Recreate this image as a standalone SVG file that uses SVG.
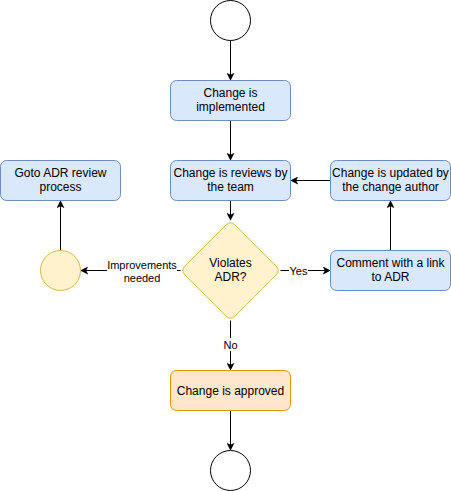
<svg xmlns="http://www.w3.org/2000/svg" width="451" height="491" viewBox="0 0 451 491">
<style>
.blue{fill:#dae8fc;stroke:#6c8ebf;stroke-width:1}
.yel{fill:#fff2cc;stroke:#d6b656;stroke-width:1}
.org{fill:#ffe6cc;stroke:#d79b00;stroke-width:1}
.term{fill:#ffffff;stroke:#000000;stroke-width:1}
.t{font-family:"Liberation Sans",Arial,sans-serif;font-size:12px;fill:#000;text-anchor:middle}
.lt{font-family:"Liberation Sans",Arial,sans-serif;font-size:11px;fill:#000;text-anchor:middle}
.e{stroke:#000;stroke-width:1;fill:none;marker-end:url(#arr)}
.lbg{fill:#ffffff}
</style>
<defs>
<marker id="arr" viewBox="0 0 10 10" refX="9" refY="5" markerWidth="8" markerHeight="8" markerUnits="userSpaceOnUse" orient="auto">
<path d="M0,0 L10,5 L0,10 L2.5,5 Z" fill="#000"/>
</marker>
</defs>
<g id="edges">
<path class="e" d="M230.5,40.5 L230.5,80"/>
<path class="e" d="M230.5,120.5 L230.5,160"/>
<path class="e" d="M230.5,200.5 L230.5,220"/>
<path class="e" d="M330.5,180.5 L291,180.5"/>
<path class="e" d="M390.5,250.5 L390.5,201"/>
<path class="e" d="M60.5,250.5 L60.5,201"/>
<path class="e" d="M180.5,270.5 L81,270.5"/>
<path class="e" d="M280.5,270.5 L330,270.5"/>
<path class="e" d="M230.5,320.5 L230.5,370"/>
<path class="e" d="M230.5,410.5 L230.5,450"/>
<rect class="lbg" x="107" y="262" width="70" height="24"/>
<text class="lt" x="142" y="269">Improvements</text>
<text class="lt" x="142" y="282">needed</text>
<rect class="lbg" x="289" y="264" width="19" height="13"/>
<text class="lt" x="298.5" y="274.5">Yes</text>
<rect class="lbg" x="222" y="338" width="17" height="13"/>
<text class="lt" x="230.5" y="349">No</text>
</g>
<g id="start"><circle class="term" cx="230.5" cy="20.5" r="20"/></g>
<g id="implemented">
<rect class="blue" x="170.5" y="80.5" width="120" height="40" rx="6"/>
<text class="t" x="230.5" y="97">Change is</text>
<text class="t" x="230.5" y="111">implemented</text>
</g>
<g id="review">
<rect class="blue" x="170.5" y="160.5" width="120" height="40" rx="6"/>
<text class="t" x="230.5" y="177">Change is reviews by</text>
<text class="t" x="230.5" y="191">the team</text>
</g>
<g id="goto">
<rect class="blue" x="0.5" y="160.5" width="120" height="40" rx="6"/>
<text class="t" x="60.5" y="177">Goto ADR review</text>
<text class="t" x="60.5" y="191">process</text>
</g>
<g id="updated">
<rect class="blue" x="330.5" y="160.5" width="120" height="40" rx="6"/>
<text class="t" x="390.5" y="177">Change is updated by</text>
<text class="t" x="390.5" y="191">the change author</text>
</g>
<g id="comment">
<rect class="blue" x="330.5" y="250.5" width="120" height="40" rx="6"/>
<text class="t" x="390.5" y="267">Comment with a link</text>
<text class="t" x="390.5" y="281">to ADR</text>
</g>
<g id="decision">
<path class="yel" d="M226,225 Q230.5,220.5 235,225 L276,266 Q280.5,270.5 276,275 L235,316 Q230.5,320.5 226,316 L185,275 Q180.5,270.5 185,266 Z"/>
<text class="t" x="230.5" y="267">Violates</text>
<text class="t" x="230.5" y="281">ADR?</text>
</g>
<g id="improve"><circle class="yel" cx="60.5" cy="270.5" r="20"/></g>
<g id="approved">
<rect class="org" x="170.5" y="370.5" width="120" height="40" rx="6"/>
<text class="t" x="230.5" y="394.5">Change is approved</text>
</g>
<g id="end"><circle class="term" cx="230.5" cy="470.5" r="20"/></g>
</svg>
